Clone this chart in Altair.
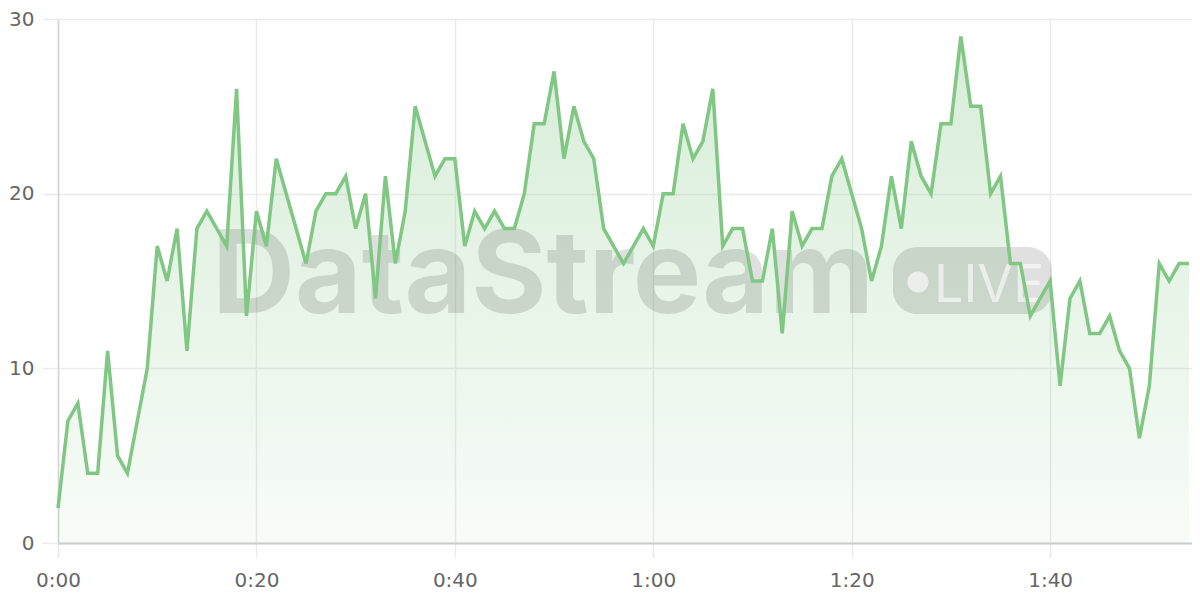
import altair as alt
import pandas as pd

# values sampled once per second, 0:00 .. 1:54
values = [2, 7, 8, 4, 4, 11, 5, 4, 7, 10,
          17, 15, 18, 11, 18, 19, 18, 17, 26, 13,
          19, 17, 22, 20, 18, 16, 19, 20, 20, 21,
          18, 20, 14, 21, 16, 19, 25, 23, 21, 22,
          22, 17, 19, 18, 19, 18, 18, 20, 24, 24,
          27, 22, 25, 23, 22, 18, 17, 16, 17, 18,
          17, 20, 20, 24, 22, 23, 26, 17, 18, 18,
          15, 15, 18, 12, 19, 17, 18, 18, 21, 22,
          20, 18, 15, 17, 21, 18, 23, 21, 20, 24,
          24, 29, 25, 25, 20, 21, 16, 16, 13, 14,
          15, 9, 14, 15, 12, 12, 13, 11, 10, 6,
          9, 16, 15, 16, 16]
seconds = list(range(len(values)))
x_ticks = [0, 20, 40, 60, 80, 100]
y_ticks = [0, 10, 20, 30]
brand = ["DataStream"]
badge = ["LIVE"]

df = pd.DataFrame({"t": seconds, "v": values})

LINE = "#81c784"
FONT = "DejaVu Sans"

x_enc = alt.X("t:Q", scale=alt.Scale(domain=[0, 114.3], nice=False, zero=False),
              axis=alt.Axis(values=x_ticks, title=None,
                            labelExpr="floor(datum.value/60) + ':' + (datum.value % 60 < 10 ? '0' : '') + (datum.value % 60)",
                            tickSize=15, labelPadding=12, domainColor="#cccccc",
                            domainWidth=2, labelFlush=False))
y_enc = alt.Y("v:Q", scale=alt.Scale(domain=[0, 30], nice=False),
              axis=alt.Axis(values=y_ticks, title=None, tickSize=16, labelPadding=8,
                            domainColor="#d4d4d4", domainWidth=1.5))

area = alt.Chart(df).mark_area(
    color=alt.Gradient(
        gradient="linear",
        stops=[alt.GradientStop(color="rgba(129,199,132,0.32)", offset=0),
               alt.GradientStop(color="rgba(129,199,132,0.06)", offset=1)],
        x1=0, x2=0, y1=0, y2=1),
    interpolate="linear",
).encode(x=x_enc, y=y_enc)

line = alt.Chart(df).mark_line(color=LINE, strokeWidth=3.5, strokeJoin="miter",
                               strokeMiterLimit=4).encode(x="t:Q", y="v:Q")

wm_text = alt.Chart(pd.DataFrame({"s": brand})).mark_text(
    font="Inter", fontWeight="bold", fontSize=115, align="left", baseline="alphabetic",
    color="#000000", opacity=0.12,
).encode(x=alt.value(154), y=alt.value(294), text="s:N")

pill = alt.Chart(pd.DataFrame({"s": badge})).mark_rect(
    color="#000000", opacity=0.12, cornerRadius=24,
).encode(x=alt.value(835), x2=alt.value(994), y=alt.value(228), y2=alt.value(295))

dot = alt.Chart(pd.DataFrame({"s": badge})).mark_point(
    shape="circle", filled=True, color="#ffffff", opacity=0.6, size=450,
).encode(x=alt.value(860), y=alt.value(263))

live = alt.Chart(pd.DataFrame({"s": badge})).mark_text(
    font="Inter", fontSize=52, align="left", baseline="alphabetic",
    color="#ffffff", opacity=0.6,
).encode(x=alt.value(876), y=alt.value(283), text="s:N")

chart = alt.layer(area, wm_text, pill, dot, live, line).properties(
    width=1134, height=524,
    autosize=alt.AutoSizeParams(type="none"),
    padding={"left": 50, "top": 11, "right": 0, "bottom": 49},
    background="#ffffff",
).configure_view(stroke=None).configure_axis(
    gridColor="#ebebeb", gridWidth=1.5, tickColor="#ebebeb", tickWidth=1.5,
    labelFont=FONT, labelFontSize=20, labelColor="#666666",
)

chart.save("out.html", embed_options={"renderer": "svg", "actions": False})
